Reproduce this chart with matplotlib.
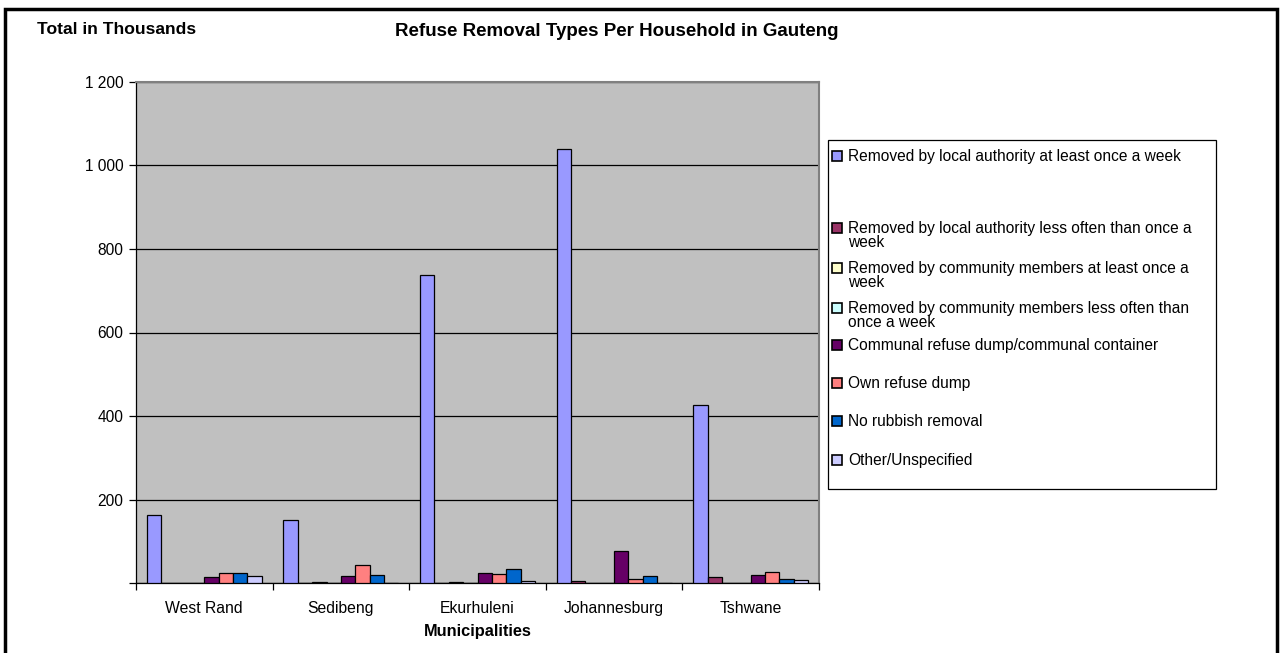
import matplotlib
matplotlib.use("Agg")
import matplotlib.pyplot as plt
from matplotlib.patches import Rectangle
import numpy as np

plt.rcParams['font.family'] = ['Liberation Sans', 'DejaVu Sans']

municipalities = ['West Rand', 'Sedibeng', 'Ekurhuleni', 'Johannesburg', 'Tshwane']

series_names = [
    'Removed by local authority at least once a week',
    'Removed by local authority less often than once a\nweek',
    'Removed by community members at least once a\nweek',
    'Removed by community members less often than\nonce a week',
    'Communal refuse dump/communal container',
    'Own refuse dump',
    'No rubbish removal',
    'Other/Unspecified',
]
series_colors = ['#9999FF', '#993366', '#FFFFCC', '#CCFFFF',
                 '#660066', '#FF8080', '#0066CC', '#CCCCFF']

# values in thousands of households
local_weekly = [163, 151, 737, 1040, 426]
local_less = [1, 1, 1, 5, 15]
community_weekly = [0, 2, 3, 1, 0]
community_less = [0, 0, 0, 1, 1]
communal_dump = [15, 17, 25, 77, 20]
own_dump = [23, 43, 21, 10, 26]
no_removal = [24, 20, 34, 17, 10]
other = [17, 1, 4, 0, 6]

series_values = [local_weekly, local_less, community_weekly, community_less,
                 communal_dump, own_dump, no_removal, other]

W, H = 1280, 653
fig = plt.figure(figsize=(W / 100, H / 100), dpi=100)

ax = fig.add_axes([136 / W, 1 - 583 / H, (819 - 136) / W, (583 - 82) / H])
ax.set_facecolor('#C0C0C0')

x = np.arange(len(municipalities))
bw = 1 / 9.5
for j, vals in enumerate(series_values):
    ax.bar(x + (j - 3.5) * bw, vals, bw, color=series_colors[j],
           edgecolor='black', linewidth=0.9, zorder=3)

ax.set_xlim(-0.5, 4.5)
ax.set_ylim(0, 1200)
ax.set_yticks(range(0, 1201, 200))
ax.set_yticklabels(['', '200', '400', '600', '800', '1 000', '1 200'], fontsize=11.2)
ax.yaxis.grid(True, color='black', linewidth=0.9)
ax.set_axisbelow(True)

ax.set_xticks(np.arange(-0.5, 5, 1))
ax.set_xticklabels([])
ax.set_xticks(x, minor=True)
ax.set_xticklabels(municipalities, minor=True, fontsize=11.3)
ax.tick_params(axis='x', which='minor', length=0, pad=13)
ax.tick_params(axis='x', which='major', length=5, width=0.9, direction='out')
ax.tick_params(axis='y', length=5, width=0.9, direction='out', pad=4)

for s in ['left', 'bottom']:
    ax.spines[s].set_color('black')
    ax.spines[s].set_linewidth(0.9)
for s in ['top', 'right']:
    ax.spines[s].set_color('#808080')
    ax.spines[s].set_linewidth(1.5)

ax.set_xlabel('Municipalities', fontsize=11.8, fontweight='bold', labelpad=6)

fig.text(37 / W, 1 - 29 / H, 'Total in Thousands', fontsize=12.6,
         fontweight='bold', va='center', ha='left')
fig.text(617 / W, 1 - 31 / H, 'Refuse Removal Types Per Household in Gauteng',
         fontsize=13.5, fontweight='bold', va='center', ha='center')

# legend drawn by hand to follow the original's spacing
fig.patches.append(Rectangle((828 / W, 1 - 489 / H), (1216 - 828) / W, (489 - 140) / H,
                             transform=fig.transFigure, facecolor='white',
                             edgecolor='black', linewidth=0.9))
legend_y = [156, 228, 268, 308, 345, 383, 421, 460]
for name, col, yy in zip(series_names, series_colors, legend_y):
    fig.patches.append(Rectangle((832 / W, 1 - (yy + 5) / H), 10 / W, 10 / H,
                                 transform=fig.transFigure, facecolor=col,
                                 edgecolor='black', linewidth=1.2))
    fig.text(848 / W, 1 - (yy - 7) / H, name, fontsize=11.2, va='top', ha='left',
             linespacing=0.95)

# outer frame
fig.patches.append(Rectangle((5 / W, -0.05), (1277 - 5) / W, 1 - 9 / H + 0.05,
                             transform=fig.transFigure, fill=False,
                             edgecolor='black', linewidth=2.5))

fig.savefig('out.png', dpi=100)
